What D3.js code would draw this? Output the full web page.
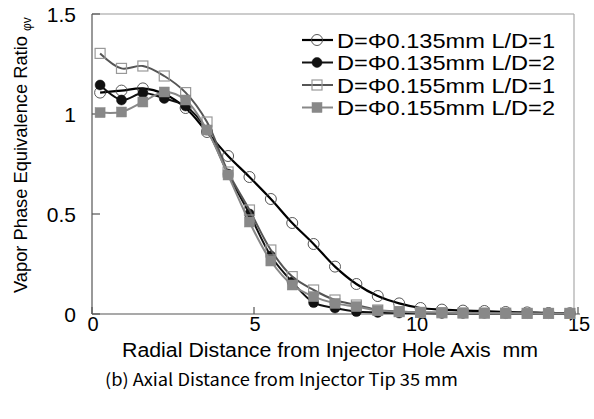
<!DOCTYPE html>
<html><head><meta charset="utf-8">
<script src="https://cdn.jsdelivr.net/npm/d3@7/dist/d3.min.js"></script>
<style>
html,body{margin:0;padding:0;background:#fff;}
svg text{font-family:"Liberation Sans",Arial,sans-serif;fill:#000;}
</style></head>
<body>
<svg id="c" width="594" height="419"></svg>
<script>
// ---- data ----
const radial = [0.25,0.91,1.57,2.23,2.89,3.55,4.20,4.86,5.52,6.18,6.84,7.50,8.16,8.82,9.48,10.14,10.80,11.45,12.11,12.77,13.43,14.09,14.75];
const d135LD1 = [1.107,1.117,1.128,1.10,1.03,0.91,0.79,0.685,0.575,0.455,0.35,0.237,0.15,0.09,0.053,0.03,0.022,0.017,0.015,0.01,0.008,0.005,0.004];
const d135LD2 = [1.145,1.07,1.105,1.078,1.04,0.92,0.70,0.50,0.29,0.16,0.057,0.03,0.012,0.008,0.005,0.004,0.003,0.003,0.003,0.002,0.002,0.002,0.002];
const d155LD1 = [1.303,1.228,1.24,1.19,1.107,0.96,0.71,0.52,0.32,0.187,0.12,0.07,0.045,0.02,0.012,0.008,0.006,0.005,0.004,0.004,0.003,0.003,0.003];
const d155LD2 = [1.007,1.01,1.06,1.11,1.07,0.92,0.695,0.46,0.265,0.145,0.087,0.053,0.037,0.017,0.012,0.008,0.007,0.005,0.005,0.004,0.003,0.003,0.003];
const seriesNames = ["D=\u03A60.135mm L/D=1","D=\u03A60.135mm L/D=2","D=\u03A60.155mm L/D=1","D=\u03A60.155mm L/D=2"];
const xTicks = [0,5,10,15];
const yTicks = [0,0.5,1,1.5];
const yTickLabels = ["0","0.5","1","1.5"];

const svg = d3.select("#c");
const x = d3.scaleLinear().domain([0,15]).range([92,578]);
const y = d3.scaleLinear().domain([0,1.5]).range([314,14]);

const styles = [
  {line:"#000", lw:2.2, marker:"circle", fill:"none", stroke:"#444", sw:0.9, size:5.5},
  {line:"#111", lw:2, marker:"circle", fill:"#111", stroke:"#111", sw:0.5, size:5},
  {line:"#555", lw:2, marker:"square", fill:"none", stroke:"#999", sw:1.2, size:10},
  {line:"#888", lw:2, marker:"square", fill:"#888", stroke:"#888", sw:0.5, size:10}
];
const allSeries = [d135LD1,d135LD2,d155LD1,d155LD2];

// frame
svg.append("line").attr("x1",92).attr("x2",574).attr("y1",14).attr("y2",14).attr("stroke","#999").attr("stroke-width",1.2);
svg.append("line").attr("x1",574).attr("x2",574).attr("y1",14).attr("y2",314).attr("stroke","#aaa").attr("stroke-width",1.2);
// axes lines
svg.append("line").attr("x1",92).attr("x2",92).attr("y1",14).attr("y2",314).attr("stroke","#555").attr("stroke-width",1.2);
svg.append("line").attr("x1",92).attr("x2",580).attr("y1",314).attr("y2",314).attr("stroke","#555").attr("stroke-width",1.2);

// ticks
xTicks.forEach(t=>{
  svg.append("line").attr("x1",x(t)).attr("x2",x(t)).attr("y1",314).attr("y2",307).attr("stroke","#555").attr("stroke-width",1.2);
  svg.append("text").attr("x",x(t)+1).attr("y",331).attr("text-anchor","middle").style("font-size","20px").text(t);
});
yTicks.forEach((t,i)=>{
  svg.append("line").attr("x1",92).attr("x2",100).attr("y1",y(t)).attr("y2",y(t)).attr("stroke","#555").attr("stroke-width",1.2);
  svg.append("text").attr("x",76).attr("y",y(t)).attr("dy","0.36em").attr("text-anchor","end").style("font-size","21px").text(yTickLabels[i]);
});

// series
const line = d3.line().x(d=>x(d[0])).y(d=>y(d[1])).curve(d3.curveCatmullRom.alpha(0.5));
function drawMarker(g, cx, cy, s){
  if(s.marker==="circle"){
    g.append("circle").attr("cx",cx).attr("cy",cy).attr("r",s.size).attr("fill",s.fill).attr("stroke",s.stroke).attr("stroke-width",s.sw);
  } else {
    g.append("rect").attr("x",cx-s.size/2).attr("y",cy-s.size/2).attr("width",s.size).attr("height",s.size).attr("fill",s.fill).attr("stroke",s.stroke).attr("stroke-width",s.sw);
  }
}
allSeries.forEach((vals,i)=>{
  const s = styles[i];
  const pts = radial.map((r,j)=>[r,vals[j]]);
  const g = svg.append("g");
  g.append("path").attr("d",line(pts)).attr("fill","none").attr("stroke",s.line).attr("stroke-width",s.lw);
  pts.forEach(p=>drawMarker(g,x(p[0]),y(p[1]),s));
});

// legend
const legY = [40,62.5,85,107.5];
seriesNames.forEach((n,i)=>{
  const s = styles[i];
  const g = svg.append("g");
  g.append("line").attr("x1",302).attr("x2",333).attr("y1",legY[i]).attr("y2",legY[i]).attr("stroke",s.line).attr("stroke-width",s.lw);
  drawMarker(g,317,legY[i],s);
  g.append("text").attr("x",337).attr("y",legY[i]+7.5).style("font-size","21px")
    .attr("textLength",218).attr("lengthAdjust","spacingAndGlyphs").text(n);
});

// axis titles
svg.append("text").attr("x",122).attr("y",357).style("font-size","20px").style("white-space","pre")
  .attr("textLength",416).attr("lengthAdjust","spacingAndGlyphs")
  .text("Radial Distance from Injector Hole Axis  mm");
svg.append("text").attr("x",105).attr("y",386).style("font-size","17px")
  .style("font-family","'Noto Sans CJK JP','DejaVu Sans',sans-serif")
  .attr("textLength",353).attr("lengthAdjust","spacingAndGlyphs")
  .text("(b) Axial Distance from Injector Tip 35 mm");
const yt = svg.append("text").attr("transform","translate(27,293) rotate(-90)").style("font-size","19px");
yt.append("tspan").attr("textLength",262).attr("lengthAdjust","spacingAndGlyphs").text("Vapor Phase Equivalence Ratio ");
yt.append("tspan").attr("dy",4).style("font-size","12px").text("\u03C6v");
</script>
</body></html>
